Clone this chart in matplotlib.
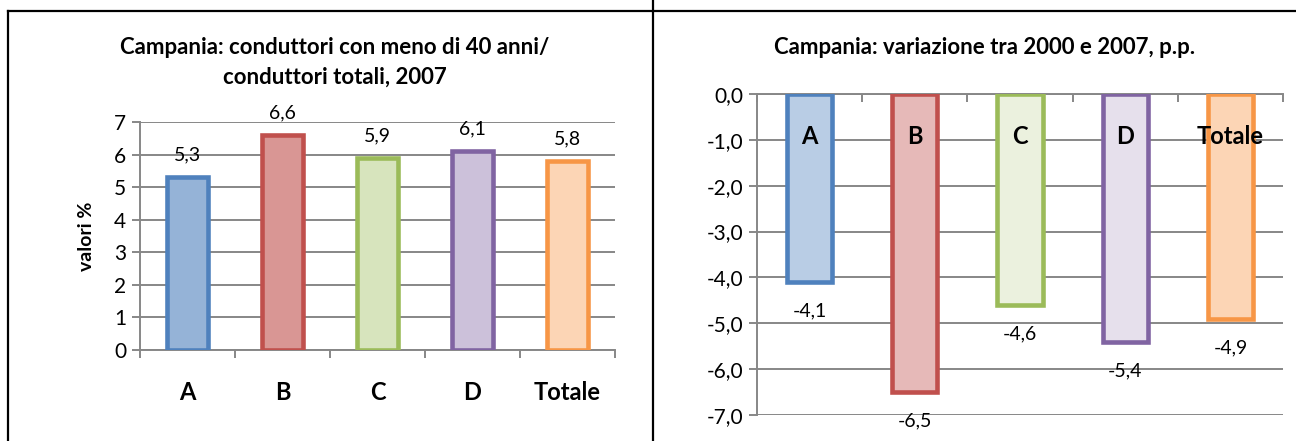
import matplotlib.pyplot as plt
from matplotlib.lines import Line2D

plt.rcParams['font.family'] = ['Lato', 'DejaVu Sans']

categorie = ['A', 'B', 'C', 'D', 'Totale']
quota_2007 = [5.3, 6.6, 5.9, 6.1, 5.8]
variazione_pp = [-4.1, -6.5, -4.6, -5.4, -4.9]

bordi = ['#4F81BD', '#C0504D', '#9BBB59', '#8064A2', '#F79646']
riemp_sx = ['#95B3D7', '#D99694', '#D7E4BD', '#CCC1DA', '#FCD5B5']
riemp_dx = ['#B9CDE5', '#E6B9B8', '#EBF1DE', '#E6E0EC', '#FCD5B5']

GRIGIO = '#878787'


def virgola(v, dec=1):
    return f'{v:.{dec}f}'.replace('.', ',')


fig = plt.figure(figsize=(12.96, 4.41), dpi=100)

# cornice della tabella
fig.add_artist(Line2D([8 / 1296, 1], [1 - 11 / 441] * 2, color='black', lw=1.6))
fig.add_artist(Line2D([8 / 1296] * 2, [0, 1 - 11 / 441], color='black', lw=1.6))
fig.add_artist(Line2D([653 / 1296] * 2, [0, 1], color='black', lw=1.6))

x = range(len(categorie))

# --- grafico di sinistra ---
ax1 = fig.add_axes([140 / 1296, 1 - 350 / 441, 475 / 1296, 228 / 441])
ax1.bar(x, quota_2007, width=0.43, color=riemp_sx, edgecolor=bordi, linewidth=3.3, zorder=3)
for i, v in enumerate(quota_2007):
    ax1.annotate(virgola(v), (i, v), xytext=(0, 16), textcoords='offset points',
                 ha='center', va='center', fontsize=14)
ax1.set_xlim(-0.5, 4.5)
ax1.set_ylim(0, 7)
ax1.set_yticks(range(0, 8))
ax1.set_xticks(list(x))
ax1.set_xticklabels(categorie, fontsize=17, fontweight='bold')
ax1.set_xticks([i - 0.5 for i in range(6)], minor=True)
ax1.tick_params(axis='x', which='major', length=0, pad=22)
ax1.tick_params(axis='x', which='minor', length=6, width=1.4, color=GRIGIO, direction='out')
ax1.tick_params(axis='y', length=6, width=1.4, color=GRIGIO, labelsize=15, pad=4)
ax1.grid(axis='y', color=GRIGIO, lw=1.4, zorder=0)
for s in ['top', 'right']:
    ax1.spines[s].set_visible(False)
for s in ['left', 'bottom']:
    ax1.spines[s].set_color(GRIGIO)
    ax1.spines[s].set_linewidth(1.4)
ax1.set_ylabel('valori %', fontsize=14, fontweight='bold', labelpad=14)
fig.text(335 / 1296, 1 - 47 / 441, 'Campania: conduttori con meno di 40 anni/',
         ha='center', va='center', fontsize=16, fontweight='bold')
fig.text(335 / 1296, 1 - 77 / 441, 'conduttori totali, 2007',
         ha='center', va='center', fontsize=16, fontweight='bold')

# --- grafico di destra ---
ax2 = fig.add_axes([757 / 1296, 1 - 415 / 441, 526 / 1296, 321 / 441])
ax2.bar(x, variazione_pp, width=0.43, color=riemp_dx, edgecolor=bordi, linewidth=3.3, zorder=3)
for i, v in enumerate(variazione_pp):
    ax2.annotate(virgola(v), (i, v), xytext=(0, -21), textcoords='offset points',
                 ha='center', va='center', fontsize=14)
    ax2.text(i, -0.93, categorie[i], ha='center', va='center',
             fontsize=17, fontweight='bold', zorder=4)
ax2.set_xlim(-0.5, 4.5)
ax2.set_ylim(-7, 0)
ax2.set_yticks(range(-7, 1))
ax2.set_yticklabels([virgola(v) for v in range(-7, 1)])
ax2.xaxis.tick_top()
ax2.set_xticks([i - 0.5 for i in range(6)])
ax2.set_xticklabels([])
ax2.tick_params(axis='x', length=6, width=1.4, color=GRIGIO, direction='in')
ax2.tick_params(axis='y', length=6, width=1.4, color=GRIGIO, labelsize=15, pad=4)
ax2.grid(axis='y', color=GRIGIO, lw=1.4, zorder=0)
for s in ['bottom', 'right']:
    ax2.spines[s].set_visible(False)
for s in ['left', 'top']:
    ax2.spines[s].set_color(GRIGIO)
    ax2.spines[s].set_linewidth(1.4)
fig.text(985 / 1296, 1 - 47 / 441, 'Campania: variazione tra 2000 e 2007, p.p.',
         ha='center', va='center', fontsize=16, fontweight='bold')

fig.savefig('out.png', dpi=100)
